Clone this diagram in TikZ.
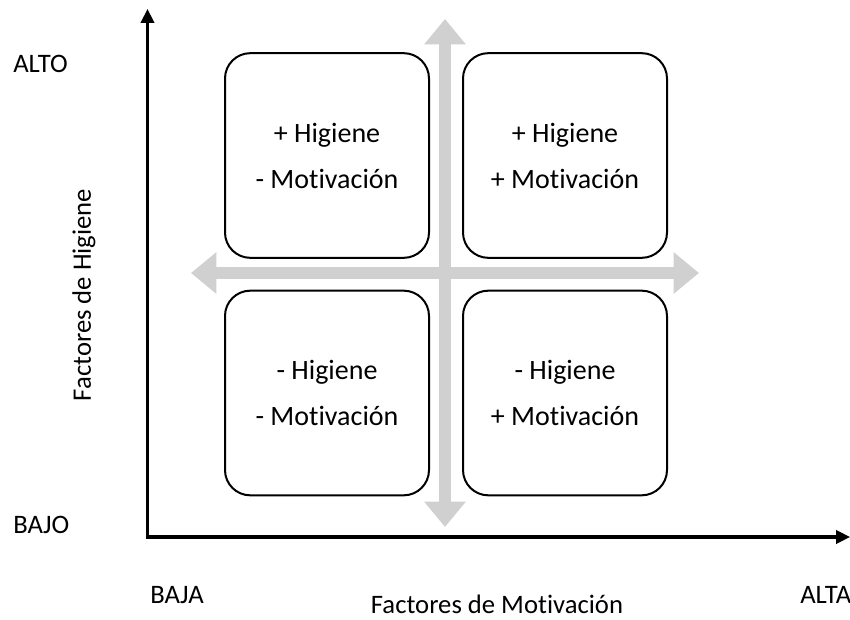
\documentclass[tikz,border=0pt]{standalone}
\usepackage{fontspec}
\setmainfont{Carlito}[Ligatures=NoCommon]
\usetikzlibrary{arrows.meta}
\definecolor{quadgrey}{RGB}{208,208,208}
\tikzset{
  quadbox/.style={draw=black, line width=1.5pt, rounded corners=19pt,
    minimum width=153pt, minimum height=153.5pt, inner sep=0pt,
    align=center, font=\fontsize{21}{34.5}\selectfont},
  axisline/.style={line width=2.3pt,
    -{Triangle[length=10.5pt,width=10pt]}},
  quadarrow/.style={quadgrey, line width=8.5pt,
    {Triangle[length=19pt,width=30pt]}-{Triangle[length=19pt,width=30pt]}},
  axislabel/.style={font=\fontsize{20}{24}\selectfont, inner sep=0pt}
}
\begin{document}
\begin{tikzpicture}[x=0.75pt,y=-0.75pt]
\useasboundingbox (0,0) rectangle (850,620);

% grey cross separating the four quadrants
\coordinate (vtop) at (445,19);
\coordinate (vbot) at (445,527);
\coordinate (hleft) at (191,273);
\coordinate (hright) at (699,273);
\draw[quadarrow] (vbot) -- (vtop);
\draw[quadarrow] (hleft) -- (hright);

% quadrants
\node[quadbox] (tl) at (327,155.5) {+ Higiene\\- Motivación};
\node[quadbox] (tr) at (565,155.5) {+ Higiene\\+ Motivación};
\node[quadbox] (bl) at (327,393) {- Higiene\\- Motivación};
\node[quadbox] (br) at (565,393) {- Higiene\\+ Motivación};

% axes
\coordinate (origin) at (147.5,537);
\coordinate (ytip) at (147.5,9);
\coordinate (xtip) at (850,537);
\draw[axisline] (origin) -- (ytip);
\draw[axisline] (origin) -- (xtip);
\fill (origin) ++(-1.55,-1.55) rectangle ++(3.1,3.1);

% axis labels
\node[axislabel, anchor=west] (alto) at (13,64) {ALTO};
\node[axislabel, anchor=west] (bajo) at (13,525) {BAJO};
\node[axislabel] (baja) at (177,595) {BAJA};
\node[axislabel, anchor=west] (alta) at (800,595) {ALTA};
\node[axislabel] (xname) at (497,604) {Factores de Motivación};
\node[axislabel, rotate=90] (yname) at (84,295) {Factores de Higiene};
\end{tikzpicture}
\end{document}
